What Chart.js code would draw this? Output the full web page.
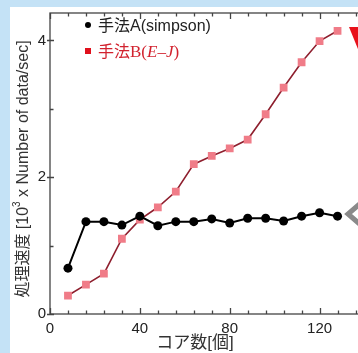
<!DOCTYPE html>
<html>
<head>
<meta charset="utf-8">
<script src="https://cdn.jsdelivr.net/npm/chart.js@4"></script>
<style>
  html, body { margin: 0; padding: 0; overflow: hidden; background: #fff; }
  canvas { display: block; }
</style>
</head>
<body>
<canvas id="chart" width="370" height="353"></canvas>
<script>
// core counts (x) and processing speed [10^3 data/sec] (y)
const coreCounts = [8, 16, 24, 32, 40, 48, 56, 64, 72, 80, 88, 96, 104, 112, 120, 128];
const speedSimpson = [0.67, 1.35, 1.35, 1.30, 1.43, 1.29, 1.35, 1.35, 1.39, 1.33, 1.40, 1.40, 1.36, 1.43, 1.48, 1.43];
const speedEJ = [0.27, 0.43, 0.59, 1.10, 1.38, 1.56, 1.79, 2.19, 2.31, 2.42, 2.55, 2.92, 3.31, 3.68, 3.99, 4.14];
const xTickLabels = [0, 40, 80, 120];
const yTickLabels = [0, 2, 4];
const seriesNames = ['手法A(simpson)', '手法B(E–J)'];

const sans = '"Liberation Sans", "Noto Sans CJK JP", sans-serif';
const serif = '"Liberation Serif", "Noto Sans CJK JP", serif';

const toPoints = ys => coreCounts.map((x, i) => ({ x: x, y: ys[i] }));

// white page with the light blue strip along the left and top
const background = {
  id: 'background',
  beforeDraw(chart) {
    const ctx = chart.ctx;
    ctx.save();
    ctx.fillStyle = '#ffffff';
    ctx.fillRect(0, 0, chart.width, chart.height);
    ctx.fillStyle = '#c4e2f6';
    ctx.fillRect(0, 0, 10, chart.height);
    ctx.fillRect(0, 0, chart.width, 7);
    ctx.restore();
  }
};

// box, inward ticks, titles, legend and the cut-off marks on the right
const decorations = {
  id: 'decorations',
  afterDraw(chart) {
    const ctx = chart.ctx;
    const a = chart.chartArea;
    const xs = chart.scales.x, ys = chart.scales.y;
    ctx.save();
    ctx.strokeStyle = '#444';
    ctx.lineWidth = 1.3;
    ctx.strokeRect(a.left, a.top, a.right - a.left, a.bottom - a.top);

    ctx.beginPath();
    for (let v = 0; v <= xs.max; v += 8) {
      const px = Math.round(xs.getPixelForValue(v)) + 0.5;
      const len = v % 40 === 0 ? 6 : 3.5;
      ctx.moveTo(px, a.bottom); ctx.lineTo(px, a.bottom - len);
      ctx.moveTo(px, a.top); ctx.lineTo(px, a.top + len);
    }
    for (let v = 0; v <= ys.max; v += 1) {
      const py = Math.round(ys.getPixelForValue(v)) + 0.5;
      if (v % 2 === 0) {
        ctx.moveTo(a.left - 3, py); ctx.lineTo(a.left + 4, py);
      } else {
        ctx.moveTo(a.left, py); ctx.lineTo(a.left + 3.5, py);
      }
    }
    ctx.stroke();

    // x title
    ctx.fillStyle = '#333';
    ctx.font = '17px ' + sans;
    ctx.textAlign = 'center';
    ctx.textBaseline = 'middle';
    ctx.fillText('コア数[個]', 195, 343);

    // y title with superscript
    ctx.save();
    ctx.translate(24, 169);
    ctx.rotate(-Math.PI / 2);
    const parts = [
      { t: '処理速度 [10', f: '16px ' + sans, dy: 0 },
      { t: '3', f: '10px ' + sans, dy: -7 },
      { t: ' x Number of data/sec]', f: '16px ' + sans, dy: 0 }
    ];
    let total = 0;
    parts.forEach(p => { ctx.font = p.f; p.w = ctx.measureText(p.t).width; total += p.w; });
    let cx = -total / 2;
    ctx.textAlign = 'left';
    parts.forEach(p => { ctx.font = p.f; ctx.fillText(p.t, cx, p.dy); cx += p.w; });
    ctx.restore();

    // legend
    ctx.textAlign = 'left';
    ctx.textBaseline = 'middle';
    ctx.fillStyle = '#000';
    ctx.beginPath();
    ctx.arc(88, 25, 3, 0, Math.PI * 2);
    ctx.fill();
    ctx.font = '16px ' + sans;
    ctx.fillStyle = '#222';
    ctx.fillText(seriesNames[0], 98, 27);

    ctx.fillStyle = '#e0101c';
    ctx.fillRect(85, 48, 6, 6);
    ctx.fillStyle = '#d2222e';
    let lx = 98;
    const bParts = [
      { t: '手法', f: '16px ' + sans },
      { t: 'B(', f: '17px ' + serif },
      { t: 'E–J', f: 'italic 17px ' + serif },
      { t: ')', f: '17px ' + serif }
    ];
    bParts.forEach(p => { ctx.font = p.f; ctx.fillText(p.t, lx, 53); lx += ctx.measureText(p.t).width; });

    // partial annotation marks at the right edge
    ctx.fillStyle = '#e8101a';
    ctx.beginPath();
    ctx.moveTo(349, 27); ctx.lineTo(372, 27); ctx.lineTo(360, 54); ctx.closePath();
    ctx.fill();
    ctx.strokeStyle = '#8a8a8a';
    ctx.lineWidth = 5;
    ctx.beginPath();
    ctx.moveTo(362, 202); ctx.lineTo(348, 214); ctx.lineTo(362, 226);
    ctx.stroke();
    ctx.restore();
  }
};

new Chart(document.getElementById('chart'), {
  type: 'line',
  data: {
    datasets: [
      {
        label: seriesNames[0],
        data: toPoints(speedSimpson),
        borderColor: '#000',
        backgroundColor: '#000',
        borderWidth: 2,
        pointRadius: 4.5,
        pointStyle: 'circle',
        pointBorderWidth: 0,
        tension: 0
      },
      {
        label: seriesNames[1],
        data: toPoints(speedEJ),
        borderColor: '#8e1f2e',
        backgroundColor: '#f07c88',
        borderWidth: 1.6,
        pointRadius: 5.5,
        pointStyle: 'rect',
        pointBorderWidth: 0,
        tension: 0
      }
    ]
  },
  options: {
    responsive: false,
    devicePixelRatio: 1,
    animation: false,
    layout: { padding: { top: 7, right: 5, left: 0, bottom: 0 } },
    plugins: {
      legend: { display: false },
      tooltip: { enabled: false }
    },
    scales: {
      x: {
        type: 'linear',
        min: 0,
        max: 140,
        grid: { display: false, drawTicks: false },
        border: { display: false },
        afterBuildTicks: s => { s.ticks = xTickLabels.map(v => ({ value: v })); },
        afterFit: s => { s.height = 39; },
        ticks: {
          autoSkip: false,
          maxRotation: 0,
          padding: 6,
          color: '#222',
          font: { size: 15, family: sans }
        }
      },
      y: {
        min: 0,
        max: 4.4,
        grid: { display: false, drawTicks: false },
        border: { display: false },
        afterBuildTicks: s => { s.ticks = yTickLabels.map(v => ({ value: v })); },
        afterFit: s => { s.width = 50; },
        ticks: {
          autoSkip: false,
          padding: 4,
          color: '#222',
          font: { size: 15, family: sans }
        }
      }
    }
  },
  plugins: [background, decorations]
});
</script>
</body>
</html>
